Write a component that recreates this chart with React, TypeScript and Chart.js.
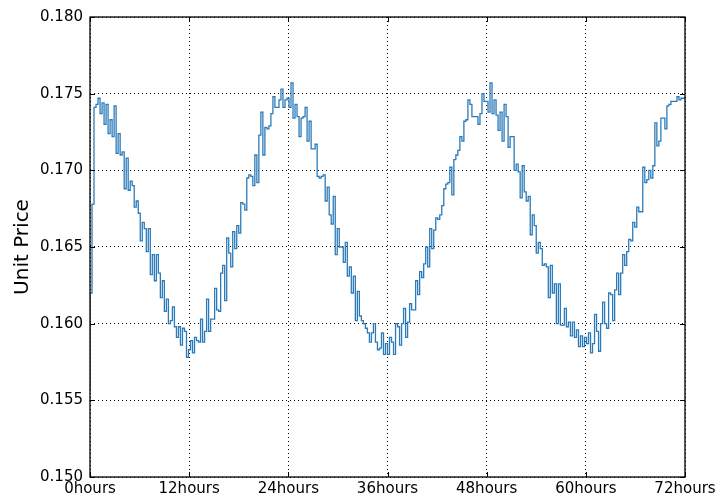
import React, { useEffect, useRef } from "react";
import { Chart, registerables } from "chart.js";

Chart.register(...registerables);

const hourTicks = [0, 12, 24, 36, 48, 60, 72];
const priceTicks = [0.15, 0.155, 0.16, 0.165, 0.17, 0.175, 0.18];
const totalHours = 72;

const day1Morning = [
  0.1556, 0.1620, 0.1678, 0.1741, 0.1743, 0.1747, 0.1737, 0.1744, 0.1730, 0.1743, 0.1724, 0.1733,
  0.1722, 0.1742, 0.1711, 0.1724, 0.1710, 0.1712, 0.1688, 0.1708, 0.1687, 0.1693, 0.1690, 0.1676,
  0.1680, 0.1672, 0.1654, 0.1666, 0.1662, 0.1647, 0.1662, 0.1632, 0.1645, 0.1628, 0.1645, 0.1633,
  0.1617, 0.1628, 0.1608, 0.1616, 0.1600, 0.1602, 0.1611, 0.1598, 0.1591, 0.1598, 0.1586, 0.1597,
];
const day1Evening = [
  0.1595, 0.1578, 0.1583, 0.1589, 0.1581, 0.1591, 0.1589, 0.1588, 0.1603, 0.1588, 0.1595, 0.1616,
  0.1595, 0.1603, 0.1603, 0.1623, 0.1609, 0.1608, 0.1633, 0.1638, 0.1615, 0.1656, 0.1646, 0.1637,
  0.1660, 0.1649, 0.1664, 0.1659, 0.1679, 0.1678, 0.1674, 0.1695, 0.1697, 0.1696, 0.1690, 0.1710,
  0.1692, 0.1723, 0.1738, 0.1710, 0.1728, 0.1727, 0.1729, 0.1737, 0.1748, 0.1741, 0.1741, 0.1746,
  0.1753, 0.1741, 0.1746,
];
const day2Morning = [
  0.1747, 0.1741, 0.1757, 0.1734, 0.1743, 0.1735, 0.1722, 0.1734, 0.1735, 0.1741, 0.1719, 0.1732,
  0.1714, 0.1714, 0.1717, 0.1696, 0.1695, 0.1696, 0.1697, 0.1680, 0.1689, 0.1671, 0.1665, 0.1683,
  0.1645, 0.1662, 0.1650, 0.1650, 0.1640, 0.1653, 0.1631, 0.1637, 0.1620, 0.1631, 0.1602, 0.1621,
  0.1605, 0.1602, 0.1600, 0.1597, 0.1594, 0.1588, 0.1594, 0.1600, 0.1588, 0.1583, 0.1584, 0.1594,
  0.1580,
];
const day2Evening = [
  0.1587, 0.1580, 0.1591, 0.1588, 0.1580, 0.1600, 0.1598, 0.1586, 0.1600, 0.1610, 0.1591, 0.1601,
  0.1613, 0.1609, 0.1609, 0.1628, 0.1619, 0.1634, 0.1630, 0.1639, 0.1650, 0.1637, 0.1662, 0.1649,
  0.1661, 0.1669, 0.1668, 0.1671, 0.1677, 0.1688, 0.1691, 0.1692, 0.1702, 0.1684, 0.1707, 0.1710,
  0.1713, 0.1722, 0.1719, 0.1732, 0.1733, 0.1746, 0.1743, 0.1735, 0.1735, 0.1735, 0.1730, 0.1737,
  0.1750, 0.1745,
];
const day3Morning = [
  0.1745, 0.1738, 0.1757, 0.1737, 0.1746, 0.1736, 0.1726, 0.1738, 0.1719, 0.1743, 0.1735, 0.1715,
  0.1722, 0.1722, 0.1700, 0.1704, 0.1699, 0.1682, 0.1703, 0.1686, 0.1680, 0.1683, 0.1658, 0.1671,
  0.1664, 0.1646, 0.1653, 0.1649, 0.1638, 0.1639, 0.1637, 0.1617, 0.1638, 0.1620, 0.1626, 0.1600,
  0.1626, 0.1599, 0.1599, 0.1610, 0.1598, 0.1601, 0.1592, 0.1601, 0.1591, 0.1596, 0.1585, 0.1592,
  0.1585, 0.1591,
];
const day3Evening = [
  0.1587, 0.1594, 0.1581, 0.1587, 0.1606, 0.1595, 0.1582, 0.1600, 0.1614, 0.1600, 0.1597, 0.1620,
  0.1619, 0.1602, 0.1622, 0.1633, 0.1619, 0.1633, 0.1645, 0.1638, 0.1647, 0.1655, 0.1654, 0.1666,
  0.1663, 0.1676, 0.1673, 0.1673, 0.1702, 0.1692, 0.1694, 0.1700, 0.1695, 0.1703, 0.1731, 0.1716,
  0.1719, 0.1734, 0.1734, 0.1727, 0.1742, 0.1743, 0.1745, 0.1745, 0.1745, 0.1748, 0.1746, 0.1747,
];

const prices = [
  ...day1Morning,
  ...day1Evening,
  ...day2Morning,
  ...day2Evening,
  ...day3Morning,
  ...day3Evening,
];

const FONT = "'DejaVu Sans', sans-serif";

const framePlugin = {
  id: "frameTicks",
  afterDraw(chart: any) {
    const { ctx, chartArea } = chart;
    const { left, right, top, bottom } = chartArea;
    const xs = chart.scales.x;
    const ys = chart.scales.y;
    const len = 5;
    ctx.save();
    ctx.strokeStyle = "#000";
    ctx.lineWidth = 1;
    ctx.beginPath();
    hourTicks.forEach((h) => {
      const px = Math.round(xs.getPixelForValue(h)) + 0.5;
      ctx.moveTo(px, bottom);
      ctx.lineTo(px, bottom - len);
      ctx.moveTo(px, top);
      ctx.lineTo(px, top + len);
    });
    priceTicks.forEach((p) => {
      const py = Math.round(ys.getPixelForValue(p)) + 0.5;
      ctx.moveTo(left, py);
      ctx.lineTo(left + len, py);
      ctx.moveTo(right, py);
      ctx.lineTo(right - len, py);
    });
    ctx.stroke();
    ctx.lineWidth = 1.3;
    ctx.strokeRect(left, top, right - left, bottom - top);
    ctx.restore();
  },
};

export default function App() {
  const ref = useRef<HTMLCanvasElement>(null);

  useEffect(() => {
    document.body.style.margin = "0";
    const n = prices.length;
    const points = prices.map((p, i) => ({ x: (i * totalHours) / n, y: p }));
    points.push({ x: totalHours, y: prices[n - 1] });

    const chart = new Chart(ref.current!, {
      type: "line",
      data: {
        datasets: [
          {
            data: points,
            borderColor: "#2b7bba",
            borderWidth: 1.3,
            pointRadius: 0,
            stepped: "after",
            fill: false,
          },
        ],
      },
      options: {
        animation: false,
        responsive: false,
        maintainAspectRatio: false,
        layout: { padding: { left: 0, right: 35, top: 17, bottom: 0 } },
        plugins: {
          legend: { display: false },
          tooltip: { enabled: false },
        },
        scales: {
          x: {
            type: "linear",
            min: 0,
            max: 72,
            afterBuildTicks: (axis: any) => {
              axis.ticks = hourTicks.map((v) => ({ value: v }));
            },
            afterFit: (axis: any) => {
              axis.height = 26;
            },
            ticks: {
              callback: (v: any) => `${v}hours`,
              color: "#000",
              font: { family: FONT, size: 15 },
              padding: 3,
              maxRotation: 0,
              autoSkip: false,
            },
            grid: {
              color: "#000",
              lineWidth: 1,
              drawTicks: false,
            },
            border: { display: false, dash: [1, 3] },
          },
          y: {
            type: "linear",
            min: 0.15,
            max: 0.18,
            afterBuildTicks: (axis: any) => {
              axis.ticks = priceTicks.map((v) => ({ value: v }));
            },
            afterFit: (axis: any) => {
              axis.width = 90;
            },
            ticks: {
              callback: (v: any) => Number(v).toFixed(3),
              color: "#000",
              font: { family: FONT, size: 15 },
              padding: 7,
            },
            grid: {
              color: "#000",
              lineWidth: 1,
              drawTicks: false,
            },
            border: { display: false, dash: [1, 3] },
            title: {
              display: true,
              text: "Unit Price",
              color: "#000",
              font: { family: FONT, size: 20 },
              padding: { top: 11, bottom: 0 },
            },
          },
        },
      },
      plugins: [framePlugin],
    });
    return () => chart.destroy();
  }, []);

  return (
    <div style={{ width: 720, height: 503 }}>
      <canvas ref={ref} width={720} height={503} style={{ display: "block" }} />
    </div>
  );
}
